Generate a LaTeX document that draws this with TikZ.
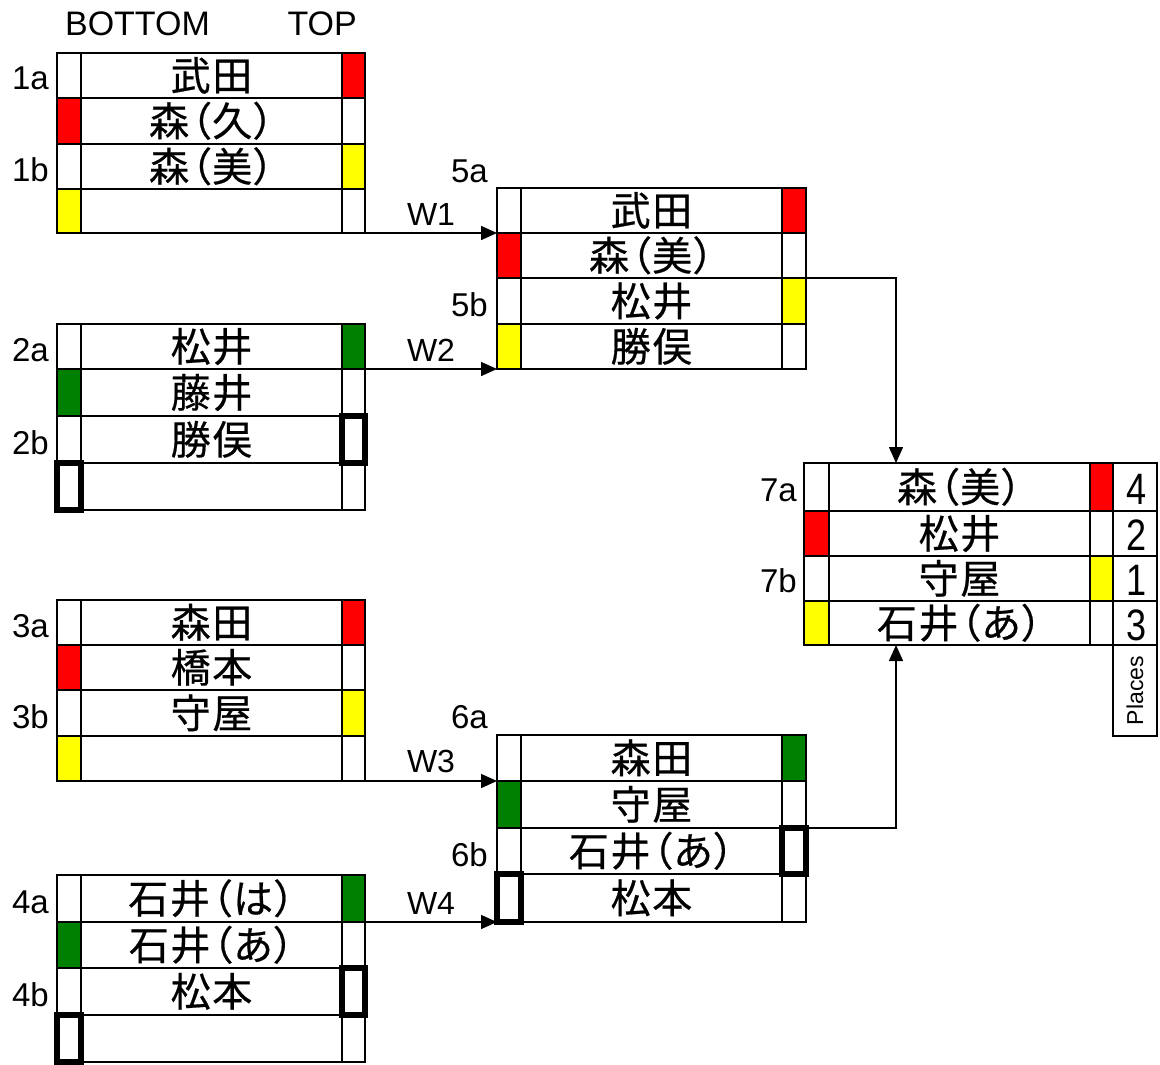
\documentclass[tikz,border=0pt]{standalone}
\usepackage{fontspec}
\setmainfont{Liberation Sans}
\newfontfamily\jpfont[RawFeature=+palt,LetterSpace=4,FakeBold=0.5]{Noto Sans CJK JP}
\usetikzlibrary{arrows.meta,fit}
\definecolor{cred}{RGB}{255,0,0}
\definecolor{cyel}{RGB}{255,255,0}
\definecolor{cgrn}{RGB}{0,128,0}
\tikzset{
  cellbox/.style={draw=black,line width=2.5pt,inner sep=0pt,outer sep=0pt},
  thickbox/.style={draw=black,line width=5.5pt,inner sep=0pt,outer sep=0pt},
  nametext/.style={inner sep=0pt,anchor=base,font=\jpfont\fontsize{40}{40}\selectfont},
  labeltext/.style={inner sep=0pt,anchor=base east,font=\fontsize{33}{33}\selectfont},
  wtext/.style={inner sep=0pt,font=\fontsize{32}{32}\selectfont},
  headtext/.style={inner sep=0pt,anchor=base,font=\fontsize{34}{34}\selectfont},
  placetext/.style={inner sep=0pt,anchor=base east,font=\fontsize{44}{44}\selectfont,xscale=0.82},
  conn/.style={line width=1.5pt,-{Triangle[length=16pt,width=14pt]}},
}
% #1 name, #2..#5 x positions, #6 ytop, #7 ybot, #8 left fill, #9 right fill
\newcommand\brow[9]{%
  \node[cellbox,fill=#8,fit={(#2,#6)(#3,#7)}] (#1L) {};
  \node[cellbox,fill=white,fit={(#3,#6)(#4,#7)}] (#1N) {};
  \node[cellbox,fill=#9,fit={(#4,#6)(#5,#7)}] (#1R) {};
}
\newcommand\nm[2]{\node[nametext] (#1T) at ([yshift=-15pt]#1N.center) {#2};}
\begin{document}
\begin{tikzpicture}[x=1pt,y=-1pt]
\useasboundingbox (0,0) rectangle (1160,1065);
\fill[white] (0,0) rectangle (1160,1065);

% headers
\node[headtext] (hbot) at (137.5,36) {BOTTOM};
\node[headtext,anchor=base east] (htop) at (357,36) {TOP};

% Block 1
\brow{b1r1}{57}{81}{342}{365}{53}{98}{white}{cred}
\brow{b1r2}{57}{81}{342}{365}{98}{144}{cred}{white}
\brow{b1r3}{57}{81}{342}{365}{144}{189}{white}{cyel}
\brow{b1r4}{57}{81}{342}{365}{189}{233}{cyel}{white}
\nm{b1r1}{武田}\nm{b1r2}{森（久）}\nm{b1r3}{森（美）}
\node[labeltext] (l1a) at (49,90) {1a};
\node[labeltext] (l1b) at (49,181) {1b};

% Block 2
\brow{b2r1}{57}{81}{342}{365}{324}{369}{white}{cgrn}
\brow{b2r2}{57}{81}{342}{365}{369}{416}{cgrn}{white}
\brow{b2r3}{57}{81}{342}{365}{416}{463}{white}{white}
\brow{b2r4}{57}{81}{342}{365}{463}{510}{white}{white}
\node[thickbox,fit={(342,416)(365,463)}] (b2x1) {};
\node[thickbox,fit={(57,463)(81,510)}] (b2x2) {};
\nm{b2r1}{松井}\nm{b2r2}{藤井}\nm{b2r3}{勝俣}
\node[labeltext] (l2a) at (49,361) {2a};
\node[labeltext] (l2b) at (49,454) {2b};

% Block 3
\brow{b3r1}{57}{81}{342}{365}{600}{645}{white}{cred}
\brow{b3r2}{57}{81}{342}{365}{645}{690}{cred}{white}
\brow{b3r3}{57}{81}{342}{365}{690}{736}{white}{cyel}
\brow{b3r4}{57}{81}{342}{365}{736}{781}{cyel}{white}
\nm{b3r1}{森田}\nm{b3r2}{橋本}\nm{b3r3}{守屋}
\node[labeltext] (l3a) at (49,637) {3a};
\node[labeltext] (l3b) at (49,728) {3b};

% Block 4
\brow{b4r1}{57}{81}{342}{365}{875}{922}{white}{cgrn}
\brow{b4r2}{57}{81}{342}{365}{922}{968}{cgrn}{white}
\brow{b4r3}{57}{81}{342}{365}{968}{1015}{white}{white}
\brow{b4r4}{57}{81}{342}{365}{1015}{1062}{white}{white}
\node[thickbox,fit={(342,968)(365,1015)}] (b4x1) {};
\node[thickbox,fit={(57,1015)(81,1062)}] (b4x2) {};
\nm{b4r1}{石井（は）}\nm{b4r2}{石井（あ）}\nm{b4r3}{松本}
\node[labeltext] (l4a) at (49,913) {4a};
\node[labeltext] (l4b) at (49,1006) {4b};

% Block 5
\brow{b5r1}{497}{521}{782}{806}{188}{233}{white}{cred}
\brow{b5r2}{497}{521}{782}{806}{233}{278}{cred}{white}
\brow{b5r3}{497}{521}{782}{806}{278}{324}{white}{cyel}
\brow{b5r4}{497}{521}{782}{806}{324}{369}{cyel}{white}
\nm{b5r1}{武田}\nm{b5r2}{森（美）}\nm{b5r3}{松井}\nm{b5r4}{勝俣}
\node[labeltext] (l5a) at (488,182) {5a};
\node[labeltext] (l5b) at (488,316) {5b};

% Block 6
\brow{b6r1}{497}{521}{782}{806}{735}{781}{white}{cgrn}
\brow{b6r2}{497}{521}{782}{806}{781}{828}{cgrn}{white}
\brow{b6r3}{497}{521}{782}{806}{828}{874}{white}{white}
\brow{b6r4}{497}{521}{782}{806}{874}{922}{white}{white}
\node[thickbox,fit={(782,828)(806,874)}] (b6x1) {};
\node[thickbox,fit={(497,874)(521,922)}] (b6x2) {};
\nm{b6r1}{森田}\nm{b6r2}{守屋}\nm{b6r3}{石井（あ）}\nm{b6r4}{松本}
\node[labeltext] (l6a) at (488,728) {6a};
\node[labeltext] (l6b) at (488,866) {6b};

% Block 7
\brow{b7r1}{804}{829}{1090}{1113}{463}{511}{white}{cred}
\brow{b7r2}{804}{829}{1090}{1113}{511}{556}{cred}{white}
\brow{b7r3}{804}{829}{1090}{1113}{556}{601}{white}{cyel}
\brow{b7r4}{804}{829}{1090}{1113}{601}{645}{cyel}{white}
\nm{b7r1}{森（美）}\nm{b7r2}{松井}\nm{b7r3}{守屋}\nm{b7r4}{石井（あ）}
\node[labeltext] (l7a) at (797,501) {7a};
\node[labeltext] (l7b) at (797,592) {7b};

% Places column
\node[cellbox,fill=white,fit={(1113,463)(1157,511)}] (p1) {};
\node[cellbox,fill=white,fit={(1113,511)(1157,556)}] (p2) {};
\node[cellbox,fill=white,fit={(1113,556)(1157,601)}] (p3) {};
\node[cellbox,fill=white,fit={(1113,601)(1157,645)}] (p4) {};
\node[cellbox,fill=white,fit={(1113,645)(1157,736)}] (p5) {};
\node[placetext] (p1t) at (1147,504) {4};
\node[placetext] (p2t) at (1147,550) {2};
\node[placetext] (p3t) at (1147,595) {1};
\node[placetext] (p4t) at (1147,640) {3};
\node[inner sep=0pt,rotate=90,font=\fontsize{23}{23}\selectfont] (p5t) at (p5.center) {Places};

% connectors
\draw[conn] (b1r4R.south east) -- node[wtext,above=7pt] (w1) {W1} (b5r1L.south west);
\draw[conn] (b2r1R.south east) -- node[wtext,above=7pt] (w2) {W2} (b5r4L.south west);
\draw[conn] (b3r4R.south east) -- node[wtext,above=7pt] (w3) {W3} (b6r1L.south west);
\draw[conn] (b4r1R.south east) -- node[wtext,above=7pt] (w4) {W4} (b6r4L.south west);
\coordinate (t7) at (896,463);
\coordinate (u7) at (896,645);
\draw[conn] (b5r2R.south east) -| (t7);
\draw[conn] (b6r2R.south east) -| (u7);
\end{tikzpicture}
\end{document}
